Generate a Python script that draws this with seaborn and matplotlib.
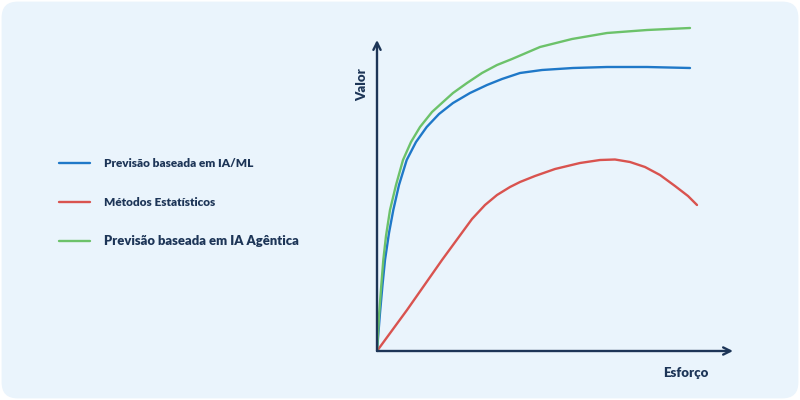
import numpy as np
import pandas as pd
import matplotlib
matplotlib.use("Agg")
import matplotlib.pyplot as plt
from matplotlib.patches import FancyBboxPatch
import seaborn as sns

# values (effort / value in arbitrary units)
series_names = ["Previsão baseada em IA/ML", "Métodos Estatísticos", "Previsão baseada em IA Agêntica"]

ml_effort = [0, 3, 5.5, 8, 12, 16.3, 22, 29.7, 39, 49.7, 62, 76, 93, 110, 125, 143, 165, 196, 230, 270, 313]
ml_value = [0, 38, 66, 91, 118, 141, 166, 191, 209, 224, 237, 248, 258, 266, 272, 278, 281, 283, 284, 284, 283]

stat_effort = [0, 30, 65, 95, 108, 120, 133, 143, 158, 178, 203, 223, 238, 253, 268, 283, 298, 311, 320]
stat_value = [0, 41, 91, 132, 146, 156, 164, 169, 175, 182, 188, 191, 191.5, 189, 184, 176, 165, 155, 146]

agent_effort = [0, 2, 4, 6.3, 9, 13, 19, 26, 34, 43, 55, 66, 76, 90, 105, 120, 135, 163, 195, 230, 270, 313]
agent_value = [0, 35, 62, 91, 115, 141, 166, 191, 209, 224, 239, 249, 258, 268, 278, 286, 292, 304, 312, 318, 321, 323]

colors = ["#1f78c8", "#d9534f", "#6cc26a"]
navy = "#1d3557"
bg = "#eaf4fc"

df = pd.concat([
    pd.DataFrame({"Esforço": ml_effort, "Valor": ml_value, "serie": series_names[0]}),
    pd.DataFrame({"Esforço": stat_effort, "Valor": stat_value, "serie": series_names[1]}),
    pd.DataFrame({"Esforço": agent_effort, "Valor": agent_value, "serie": series_names[2]}),
])

sns.set_theme(style="white")
plt.rcParams["font.family"] = ["Lato", "DejaVu Sans"]

fig = plt.figure(figsize=(8, 4), dpi=100, facecolor="white")
card = FancyBboxPatch((0.002, 0.004), 0.996, 0.992,
                      boxstyle="round,pad=0,rounding_size=0.02",
                      transform=fig.transFigure, facecolor=bg,
                      edgecolor="none", mutation_aspect=2, zorder=-10)
fig.patches.append(card)

# axes origin at the arrow corner
ax = fig.add_axes([377 / 800, 49 / 400, 363 / 800, 331 / 400])
ax.set_facecolor("none")
sns.lineplot(data=df, x="Esforço", y="Valor", hue="serie", hue_order=series_names,
             palette=colors, linewidth=1.7, sort=False, estimator=None, ax=ax)
for ln in ax.get_lines():
    ln.set_solid_joinstyle("round")
ax.set_xlim(0, 363)
ax.set_ylim(0, 331)
for s in ax.spines.values():
    s.set_visible(False)
ax.set_xticks([])
ax.set_yticks([])
ax.set_xlabel("")
ax.set_ylabel("")

arrow = dict(arrowstyle="->", color=navy, lw=1.7, mutation_scale=13, shrinkA=0, shrinkB=0)
ax.annotate("", xy=(356, 0), xytext=(0, 0), arrowprops=arrow, annotation_clip=False)
ax.annotate("", xy=(0, 311), xytext=(0, 0), arrowprops=arrow, annotation_clip=False)

ax.text(309, -22, "Esforço", ha="center", va="center", fontsize=9.5,
        fontweight="heavy", color=navy)
ax.text(-15, 266, "Valor", ha="center", va="center", rotation=90, fontsize=9.5,
        fontweight="heavy", color=navy)

handles, labels = ax.get_legend_handles_labels()
leg = ax.legend(handles, labels, loc="upper left", bbox_to_anchor=(0.074, 0.605),
                bbox_transform=fig.transFigure, frameon=False,
                handlelength=2.6, handletextpad=1.2, labelspacing=2.35,
                borderpad=0, borderaxespad=0, labelcolor=navy,
                prop={"weight": "heavy", "size": 8.5})
leg.get_texts()[2].set_fontsize(9.4)

fig.savefig("out.png", dpi=100, facecolor="white")
